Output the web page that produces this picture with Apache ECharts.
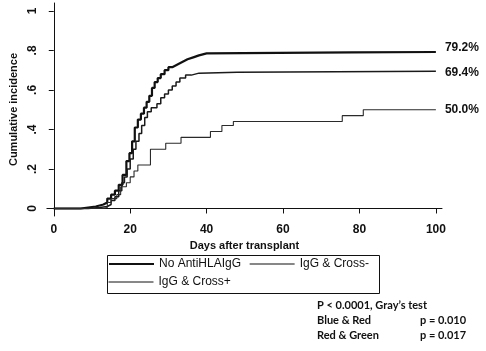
<!DOCTYPE html>
<html>
<head>
<meta charset="utf-8">
<script src="https://cdn.jsdelivr.net/npm/echarts@6/dist/echarts.min.js"></script>
<style>
  html, body { margin: 0; padding: 0; background: #fff; }
  #chart { width: 486px; height: 351px; }
</style>
</head>
<body>
<div id="chart"></div>
<script>
// cumulative incidence steps, [day, value]
const noAntiHLA = [
  [0, 0], [7, 0.005], [9, 0.01], [11, 0.015], [12, 0.02], [13, 0.03], [14, 0.05], [15, 0.07],
  [16, 0.09], [17, 0.12], [18, 0.17], [19, 0.24], [19.8, 0.28], [20.5, 0.34], [21.2, 0.41],
  [22, 0.45], [22.8, 0.48], [23.6, 0.51], [24.3, 0.54], [25, 0.57], [25.7, 0.61], [26.4, 0.64],
  [27.2, 0.66], [28, 0.68], [29, 0.7], [30, 0.715], [31, 0.725], [32, 0.735], [33, 0.745],
  [34, 0.755], [35, 0.765], [36.5, 0.775], [38, 0.785], [40, 0.79], [78, 0.792], [100, 0.792]
]
const iggCrossNeg = [
  [0, 0], [9, 0.005], [12, 0.01], [14, 0.02], [15, 0.04], [16, 0.06], [17, 0.09], [17.8, 0.13],
  [18.5, 0.16], [19.2, 0.2], [20, 0.25], [20.8, 0.3], [21.5, 0.34], [22.3, 0.38], [23, 0.42],
  [23.8, 0.46], [24.5, 0.49], [25.5, 0.51], [27, 0.53], [28, 0.56], [29, 0.58], [30, 0.6],
  [31, 0.62], [32, 0.64], [33, 0.66], [34.5, 0.675], [36, 0.685], [38, 0.69], [48, 0.694], [100, 0.694]
]
const iggCrossPos = [
  [0, 0], [13, 0.005], [14, 0.03], [15, 0.05], [16.5, 0.07], [17.5, 0.11], [19, 0.13], [20, 0.16],
  [21, 0.19], [22, 0.22], [25.3, 0.3], [29.3, 0.33], [33.3, 0.36], [41, 0.39], [44, 0.42],
  [47, 0.44], [75.5, 0.47], [81, 0.5], [100, 0.5]
]
const endLabels = ['79.2%', '69.4%', '50.0%']
const seriesNames = ['No AntiHLAIgG', 'IgG & Cross-', 'IgG & Cross+']
const xTicks = [0, 20, 40, 60, 80, 100]
const yTicks = [0, 0.2, 0.4, 0.6, 0.8, 1]
const yTickLabels = ['0', '.2', '.4', '.6', '.8', '1']
const notes = [
  ['P < 0.0001, Gray\u2019s test', ''],
  ['Blue & Red', 'p = 0.010'],
  ['Red & Green', 'p = 0.017']
]

const chart = echarts.init(document.getElementById('chart'))

const lineWidths = [2.2, 1.5, 1.1]
const legendLineWidths = [2, 1.2, 1]
const colors = ['#111', '#1a1a1a', '#2a2a2a']
const labelOffsets = [[0, -4], [0, 1], [0, 0]]
const allData = [noAntiHLA, iggCrossNeg, iggCrossPos]

const noteFont = 'bold 11px Lato, "Open Sans", sans-serif'
const noteGraphics = [
  // legend frame
  {
    type: 'rect', left: 105, top: 253, z: 10,
    shape: { width: 272, height: 38 },
    style: { fill: 'none', stroke: '#111', lineWidth: 1 }
  }
]
notes.forEach((n, i) => {
  noteGraphics.push({
    type: 'text', left: 317, top: 300 + i * 15,
    style: { text: n[0], font: noteFont, fill: '#111' }
  })
  if (n[1]) {
    noteGraphics.push({
      type: 'text', left: 420, top: 300 + i * 15,
      style: { text: n[1], font: noteFont, fill: '#111' }
    })
  }
})

const legendItems = seriesNames.map((n, i) => ({
  name: n,
  lineStyle: { width: legendLineWidths[i], color: '#111' }
}))

const legendBase = {
  orient: 'horizontal',
  padding: 0,
  itemWidth: 45,
  itemHeight: 15,
  itemStyle: { opacity: 0 },
  textStyle: { fontSize: 12, color: '#111' }
}

chart.setOption({
  animation: false,
  textStyle: { fontFamily: 'Liberation Sans, Arial, sans-serif' },
  grid: { left: 43, right: 44, top: 3, bottom: 135 },
  legend: [
    Object.assign({}, legendBase, { left: 108, top: 258, itemGap: 8, data: legendItems.slice(0, 2) }),
    Object.assign({}, legendBase, { left: 108, top: 276, data: legendItems.slice(2) })
  ],
  xAxis: {
    type: 'value',
    min: -1.8,
    max: 101.6,
    name: 'Days after transplant',
    nameLocation: 'middle',
    nameGap: 20,
    nameTextStyle: { fontSize: 11, fontWeight: 'bold', color: '#111' },
    splitLine: { show: false },
    axisLine: { lineStyle: { color: '#111', width: 1 } },
    axisTick: { customValues: xTicks, length: 5, lineStyle: { color: '#111' } },
    axisLabel: { customValues: xTicks, margin: 8, fontSize: 12, fontWeight: 'bold', color: '#111' }
  },
  yAxis: {
    type: 'value',
    min: -0.038,
    max: 1.04,
    name: 'Cumulative incidence',
    nameLocation: 'middle',
    nameGap: 16,
    nameTextStyle: { fontSize: 11, fontWeight: 'bold', color: '#111' },
    splitLine: { show: false },
    axisLine: { lineStyle: { color: '#111', width: 1 } },
    axisTick: { customValues: yTicks, length: 5, lineStyle: { color: '#111' } },
    axisLabel: {
      customValues: yTicks,
      rotate: 90,
      margin: 8,
      fontSize: 12,
      fontWeight: 'bold',
      color: '#111',
      formatter: v => yTickLabels[yTicks.findIndex(t => Math.abs(t - v) < 1e-6)] || ''
    }
  },
  series: allData.map((d, i) => ({
    name: seriesNames[i],
    type: 'line',
    step: 'end',
    symbol: 'none',
    data: d,
    color: colors[i],
    lineStyle: { color: colors[i], width: lineWidths[i] },
    endLabel: {
      show: true,
      formatter: endLabels[i],
      distance: 9,
      offset: labelOffsets[i],
      fontSize: 12,
      fontWeight: 'bold',
      color: '#111'
    }
  })),
  graphic: noteGraphics
})
</script>
</body>
</html>
